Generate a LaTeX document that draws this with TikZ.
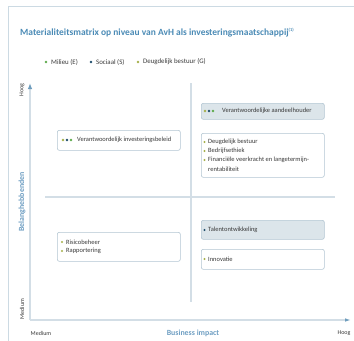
\documentclass[tikz,border=0pt]{standalone}
\usepackage{fontspec}
\setmainfont{Carlito}
\usetikzlibrary{arrows.meta}

\definecolor{titleblue}{HTML}{4A8AB5}
\definecolor{axisblue}{HTML}{6E9EC2}
\definecolor{tipblue}{HTML}{6F9DBD}
\definecolor{framegrey}{HTML}{CCDAE3}
\definecolor{linegrey}{HTML}{D3DEE6}
\definecolor{boxgrey}{HTML}{DCE5EA}
\definecolor{boxline}{HTML}{B3C6D2}
\definecolor{esgE}{HTML}{5DAA4B}
\definecolor{esgS}{HTML}{1E4D6B}
\definecolor{esgG}{HTML}{A5B04A}
\definecolor{txt}{HTML}{3A3A3A}

% three ESG dots in front of a label
\newcommand{\esgdots}[2]{%
    \fill[esgG] (#1,#2) circle (1.3);
    \fill[esgS] ({#1+4},#2) circle (1.3);
    \fill[esgE] ({#1+8},#2) circle (1.3);
}

\begin{document}
\begin{tikzpicture}[
    x=1bp,
    y=-1bp,
    label/.style={
        font=\fontsize{6.5}{8}\selectfont,
        text=txt,
        inner sep=0pt,
        anchor=west
    },
    panel/.style={
        draw=boxline,
        fill=white,
        line width=0.6bp,
        rounded corners=2bp,
        anchor=north west,
        inner sep=0pt,
        minimum width=123bp
    },
    shaded/.style={
        panel,
        fill=boxgrey
    },
    divider/.style={
        draw=linegrey,
        line width=1.1bp
    },
    axistitle/.style={
        font=\fontsize{7.9}{9}\selectfont\bfseries,
        text=axisblue,
        inner sep=0pt
    },
    axisend/.style={
        font=\fontsize{6}{7}\selectfont,
        text=txt,
        inner sep=0pt
    }
]
\useasboundingbox (0,0) rectangle (354,341);

% Outer frame
\draw[draw=framegrey, line width=0.9bp] (8,341) -- (8,6) -- (354,6);

% Title
\node[font=\fontsize{9.5}{11}\selectfont\bfseries, text=titleblue,
      inner sep=0pt, anchor=west] (title) at (20,33)
    {Materialiteitsmatrix op niveau van AvH als investeringsmaatschappij\textsuperscript{\fontsize{4.5}{5}\selectfont (1)}};

% Legend
\foreach \col/\name/\txt [count=\i] in {
    esgE/legE/{Milieu (E)},
    esgS/legS/{Sociaal (S)},
    esgG/legG/{Deugdelijk bestuur (G)}
}{
    \pgfmathsetmacro{\lx}{{0,46,91,138}[\i]}
    \fill[\col] (\lx,62) circle (1.3);
    \node[label, font=\fontsize{6.9}{8}\selectfont] (\name) at (\lx+5,62) {\txt};
}

% Quadrant dividers
\draw[divider] (191,83) -- (191,302);
\draw[divider] (45,197) -- (335,197);

% Axes
\coordinate (origin) at (30,320);
\coordinate (ytop) at (30,83);
\coordinate (xend) at (351,320);
\draw[divider, -{Latex[length=6bp, width=4.5bp, color=tipblue]}] (origin) -- (ytop);
\draw[divider, -{Latex[length=6bp, width=3.5bp, color=tipblue]}] (origin) -- (xend);

% Axis labels
\node[axisend, rotate=90] (yhigh) at (22,90) {Hoog};
\node[axisend, rotate=90] (ylow) at (22,309) {Medium};
\node[axistitle, rotate=90] (ytitle) at (22,202) {Belanghebbenden};
\node[axisend] (xlow) at (41,333) {Medium};
\node[axisend] (xhigh) at (344,333) {Hoog};
\node[axistitle] (xtitle) at (193,333) {Business impact};

% Top left
\node[panel, minimum height=20bp] (beleid) at (57,130) {};
\esgdots{63}{140}
\node[label] (beleidtxt) at (77,140) {Verantwoordelijk investeringsbeleid};

% Top right
\node[shaded, minimum height=16bp] (aandeel) at (201,103) {};
\esgdots{205}{111}
\node[label] (aandeeltxt) at (222,111) {Verantwoordelijke aandeelhouder};

\node[panel, minimum height=44bp] (bestuur) at (201,133) {};
\foreach \item [count=\i] in {
    Deugdelijk bestuur,
    Bedrijfsethiek,
    Financi\"ele veerkracht en langetermijn-
}{
    \fill[esgG] (204.5,{133+9*\i}) circle (1.2);
    \node[label] (bestuur\i) at (208,{133+9*\i}) {\item};
}
\node[label] (bestuur4) at (208,169) {rentabiliteit};

% Bottom left
\node[panel, minimum height=29bp] (risico) at (57,232) {};
\foreach \item [count=\i] in {Risicobeheer, Rapportering}{
    \fill[esgG] (62,{233+9*\i}) circle (1.2);
    \node[label] (risico\i) at (66,{233+9*\i}) {\item};
}

% Bottom right
\node[shaded, minimum height=19bp] (talent) at (201,220) {};
\fill[esgS] (204.5,230) circle (1.2);
\node[label] (talenttxt) at (208,230) {Talentontwikkeling};

\node[panel, minimum height=20bp] (innov) at (201,249) {};
\fill[esgG] (204.5,259) circle (1.2);
\node[label] (innovtxt) at (208,259) {Innovatie};
\end{tikzpicture}
\end{document}
